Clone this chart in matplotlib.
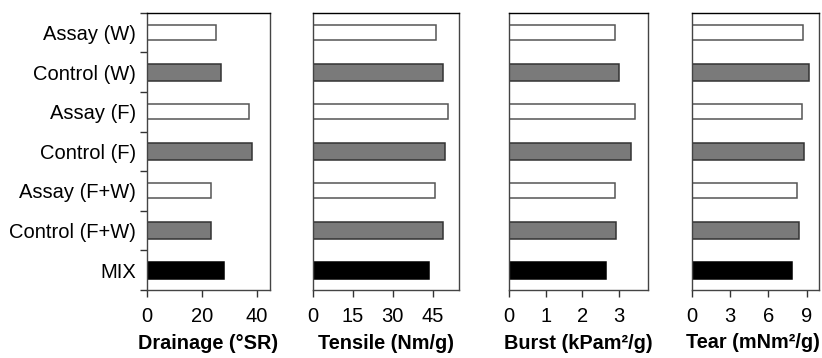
import matplotlib
matplotlib.use("Agg")
import matplotlib.pyplot as plt
import numpy as np

plt.rcParams["font.family"] = ["Liberation Sans", "DejaVu Sans"]

# 数据
categories = ["Assay (W)", "Control (W)", "Assay (F)", "Control (F)",
              "Assay (F+W)", "Control (F+W)", "MIX"]
kinds = ["assay", "control", "assay", "control", "assay", "control", "mix"]
drainage = [25.1, 27.0, 37.0, 38.2, 23.2, 23.4, 28.0]
tensile = [46.4, 48.7, 50.8, 49.5, 45.7, 48.7, 43.5]
burst = [2.90, 3.01, 3.44, 3.33, 2.90, 2.92, 2.64]
tear = [8.74, 9.16, 8.61, 8.77, 8.22, 8.37, 7.86]

panels = [
    ("Drainage (°SR)", drainage, [0, 20, 40], 44.7),
    ("Tensile (Nm/g)", tensile, [0, 15, 30, 45], 55.0),
    ("Burst (kPam²/g)", burst, [0, 1, 2, 3], 3.79),
    ("Tear (mNm²/g)", tear, [0, 3, 6, 9], 10.0),
]
lefts = [147, 313, 509.3, 692]
rights = [270, 459.3, 647.7, 819.3]

FACE = {"assay": "white", "control": "#7a7a7a", "mix": "black"}
EDGE = {"assay": "#555555", "control": "#333333", "mix": "black"}

W, H = 822, 358
fig = plt.figure(figsize=(W / 100, H / 100), dpi=100)
y = np.arange(len(categories))
bottom_px, top_px = 290, 12.7

for i, ((label, vals, ticks, xmax), l, r) in enumerate(zip(panels, lefts, rights)):
    ax = fig.add_axes([l / W, 1 - bottom_px / H, (r - l) / W, (bottom_px - top_px) / H])
    h = [0.38 if k == "assay" else 0.43 for k in kinds]
    ax.barh(y, vals, height=h, color=[FACE[k] for k in kinds],
            edgecolor=[EDGE[k] for k in kinds], linewidth=1.1)
    ax.set_ylim(len(categories) - 0.5, -0.5)
    ax.set_xlim(0, xmax)
    ax.set_xticks(ticks)
    ax.tick_params(axis="x", direction="out", length=5, width=1, color="#333",
                   labelsize=14.5, pad=7)
    for s in ax.spines.values():
        s.set_color("#444")
        s.set_linewidth(1.0)
    ax.spines["top"].set_color("black")
    if i == 0:
        ax.set_yticks(y)
        ax.set_yticklabels(categories, fontsize=14.5)
        ax.tick_params(axis="y", which="major", length=0, pad=8)
        ax.set_yticks(np.arange(-0.5, len(categories)), minor=True)
        ax.tick_params(axis="y", which="minor", length=5, width=1, color="#333")
    else:
        ax.set_yticks([])
    ax.set_xlabel(label, fontsize=14.3, fontweight="bold", labelpad=6)
    if i == 3:
        ax.xaxis.set_label_coords(0.48, -0.155)

fig.savefig("out.png", dpi=100)
